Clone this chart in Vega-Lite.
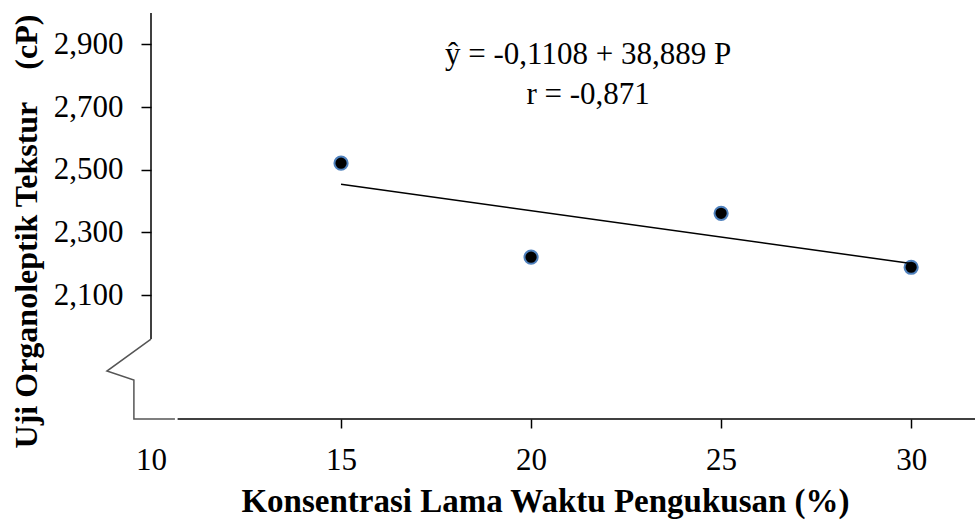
{
  "$schema": "https://vega.github.io/schema/vega-lite/v6.json",
  "autosize": {"type": "none"},
  "padding": {"left": 151, "top": 13, "right": 2, "bottom": 101},
  "width": 824,
  "height": 406,
  "background": "white",
  "config": {"view": {"stroke": null}, "font": "Liberation Serif"},
  "datasets": {
    "points": [
      {"P": 15, "T": 2521},
      {"P": 20, "T": 2221},
      {"P": 25, "T": 2361},
      {"P": 30, "T": 2189}
    ],
    "fit": [
      {"P": 15, "T": 2454},
      {"P": 30, "T": 2201}
    ],
    "yline": [{"P": 10, "T": 1960, "T2": 3000}],
    "xline": [{"P": 10.7, "P2": 31.68, "T": 1705}],
    "zigzag": [
      {"i": 1, "P": 10, "T": 1960},
      {"i": 2, "P": 8.84, "T": 1858},
      {"i": 3, "P": 9.55, "T": 1829},
      {"i": 4, "P": 9.55, "T": 1705},
      {"i": 5, "P": 10.63, "T": 1705}
    ],
    "notes": [
      {"P": 21.5, "T": 2865, "label": "ŷ = -0,1108 + 38,889 P"},
      {"P": 21.5, "T": 2737, "label": "r = -0,871"}
    ]
  },
  "layer": [
    {
      "data": {"name": "points"},
      "mark": {"type": "circle", "size": 175, "opacity": 1, "color": "black", "stroke": "#4F81BD", "strokeWidth": 2},
      "encoding": {
        "x": {
          "field": "P", "type": "quantitative",
          "scale": {"domain": [10, 31.68], "nice": false, "zero": false},
          "axis": {
            "values": [10, 15, 20, 25, 30],
            "format": "d",
            "title": "Konsentrasi Lama Waktu Pengukusan (%)",
            "domain": false, "grid": false, "labelFlush": false, "labelOverlap": false,
            "tickSize": 9, "tickColor": "black", "tickWidth": 1.5,
            "tickOpacity": {"condition": {"test": "datum.value === 10", "value": 0}, "value": 1},
            "labelFont": "Liberation Serif", "labelFontSize": 31, "labelColor": "black", "labelPadding": 17,
            "titleFont": "Liberation Serif", "titleFontSize": 33, "titleFontWeight": "bold", "titleColor": "black",
            "titleX": 394, "titleY": 92, "titleAlign": "center", "titleBaseline": "alphabetic"
          }
        },
        "y": {
          "field": "T", "type": "quantitative",
          "scale": {"domain": [1705, 3000], "nice": false, "zero": false},
          "axis": {
            "values": [2100, 2300, 2500, 2700, 2900],
            "format": ",.0f",
            "title": "Uji Organoleptik Tekstur\u00a0\u00a0\u00a0 (cP)",
            "domain": false, "grid": false, "labelFlush": false, "labelOverlap": false,
            "tickSize": 10, "tickColor": "black", "tickWidth": 1.5,
            "labelFont": "Liberation Serif", "labelFontSize": 31, "labelColor": "black", "labelPadding": 18,
            "titleFont": "Liberation Serif", "titleFontSize": 32, "titleFontWeight": "bold", "titleColor": "black",
            "titleAngle": -90, "titleX": -115, "titleY": 218, "titleAlign": "center", "titleBaseline": "alphabetic"
          }
        }
      }
    },
    {
      "data": {"name": "fit"},
      "mark": {"type": "line", "color": "black", "strokeWidth": 1.5},
      "encoding": {
        "x": {"field": "P", "type": "quantitative"},
        "y": {"field": "T", "type": "quantitative"}
      }
    },
    {
      "data": {"name": "yline"},
      "mark": {"type": "rule", "color": "black", "strokeWidth": 1.5},
      "encoding": {
        "x": {"field": "P", "type": "quantitative"},
        "y": {"field": "T", "type": "quantitative"},
        "y2": {"field": "T2"}
      }
    },
    {
      "data": {"name": "xline"},
      "mark": {"type": "rule", "color": "black", "strokeWidth": 1.5},
      "encoding": {
        "x": {"field": "P", "type": "quantitative"},
        "x2": {"field": "P2"},
        "y": {"field": "T", "type": "quantitative"}
      }
    },
    {
      "data": {"name": "zigzag"},
      "mark": {"type": "line", "color": "#555555", "strokeWidth": 1.5},
      "encoding": {
        "x": {"field": "P", "type": "quantitative"},
        "y": {"field": "T", "type": "quantitative"},
        "order": {"field": "i", "type": "quantitative"}
      }
    },
    {
      "data": {"name": "notes"},
      "mark": {"type": "text", "font": "Liberation Serif", "fontSize": 31, "color": "black", "align": "center", "baseline": "middle"},
      "encoding": {
        "x": {"field": "P", "type": "quantitative"},
        "y": {"field": "T", "type": "quantitative"},
        "text": {"field": "label"}
      }
    }
  ]
}
